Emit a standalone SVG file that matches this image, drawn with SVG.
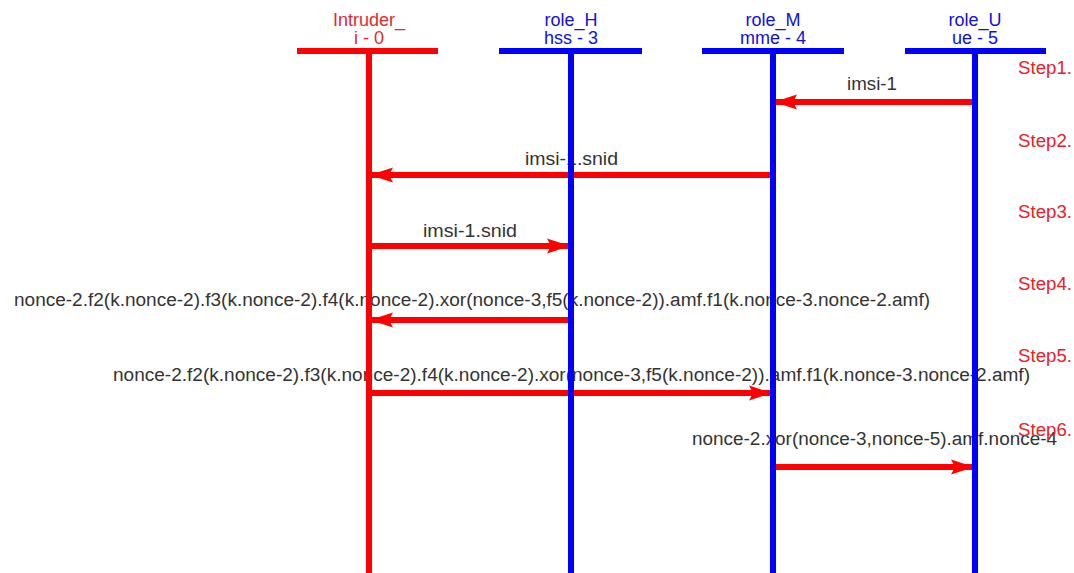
<svg xmlns="http://www.w3.org/2000/svg" width="1074" height="573" viewBox="0 0 1074 573">
  <defs>
    <style>
      .lbl { font-family: "Liberation Sans", Arial, sans-serif; font-size: 18px; fill: #333333; }
      .step { font-family: "Liberation Sans", Arial, sans-serif; font-size: 18px; fill: #e8202a; }
      .head-red { font-family: "Liberation Sans", Arial, sans-serif; font-size: 18px; fill: #e02a30; text-anchor: middle; }
      .head-blue { font-family: "Liberation Sans", Arial, sans-serif; font-size: 18px; fill: #1010e0; text-anchor: middle; }
      .msg { stroke: #ff0000; stroke-width: 6; fill: none; }
      .life-red { stroke: #ff0000; stroke-width: 6; }
      .life-blue { stroke: #0000ff; stroke-width: 6; }
    </style>
    <marker id="head" markerWidth="24" markerHeight="18" refX="23" refY="9" orient="auto" markerUnits="userSpaceOnUse">
      <path d="M0,1.5 L23,9 L0,16.5 L4,9 Z" fill="#ff0000"/>
    </marker>
  </defs>
  <rect width="1074" height="573" fill="#ffffff"/>

  <!-- message labels -->
  <g id="labels">
    <text class="lbl" x="847" y="90" textLength="50" lengthAdjust="spacingAndGlyphs">imsi-1</text>
    <text class="lbl" x="525" y="165" textLength="93" lengthAdjust="spacingAndGlyphs">imsi-1.snid</text>
    <text class="lbl" x="423" y="237" textLength="94" lengthAdjust="spacingAndGlyphs">imsi-1.snid</text>
    <text class="lbl" x="14" y="306" textLength="916" lengthAdjust="spacingAndGlyphs">nonce-2.f2(k.nonce-2).f3(k.nonce-2).f4(k.nonce-2).xor(nonce-3,f5(k.nonce-2)).amf.f1(k.nonce-3.nonce-2.amf)</text>
    <text class="lbl" x="113" y="381" textLength="917" lengthAdjust="spacingAndGlyphs">nonce-2.f2(k.nonce-2).f3(k.nonce-2).f4(k.nonce-2).xor(nonce-3,f5(k.nonce-2)).amf.f1(k.nonce-3.nonce-2.amf)</text>
    <text class="lbl" x="692" y="445" textLength="365" lengthAdjust="spacingAndGlyphs">nonce-2.xor(nonce-3,nonce-5).amf.nonce-4</text>
  </g>

  <!-- step markers -->
  <g id="steps">
    <text class="step" x="1018" y="74" textLength="54" lengthAdjust="spacingAndGlyphs">Step1.</text>
    <text class="step" x="1018" y="147" textLength="54" lengthAdjust="spacingAndGlyphs">Step2.</text>
    <text class="step" x="1018" y="218" textLength="54" lengthAdjust="spacingAndGlyphs">Step3.</text>
    <text class="step" x="1018" y="290" textLength="54" lengthAdjust="spacingAndGlyphs">Step4.</text>
    <text class="step" x="1018" y="362" textLength="54" lengthAdjust="spacingAndGlyphs">Step5.</text>
    <text class="step" x="1018" y="436" textLength="54" lengthAdjust="spacingAndGlyphs">Step6.</text>
  </g>

  <!-- messages -->
  <g id="connectors">
    <line class="msg" x1="975" y1="102" x2="774" y2="102" marker-end="url(#head)"/>
    <line class="msg" x1="773" y1="175" x2="370" y2="175" marker-end="url(#head)"/>
    <line class="msg" x1="369" y1="246" x2="570" y2="246" marker-end="url(#head)"/>
    <line class="msg" x1="571" y1="320" x2="370" y2="320" marker-end="url(#head)"/>
    <line class="msg" x1="369" y1="393" x2="772" y2="393" marker-end="url(#head)"/>
    <line class="msg" x1="773" y1="467" x2="974" y2="467" marker-end="url(#head)"/>
  </g>

  <!-- lifelines -->
  <g id="intruder">
    <text class="head-red" x="369" y="26">Intruder_</text>
    <text class="head-red" x="369" y="44">i - 0</text>
    <line class="life-red" x1="297" y1="51" x2="438" y2="51"/>
    <line class="life-red" x1="369" y1="51" x2="369" y2="573"/>
  </g>
  <g id="role_H">
    <text class="head-blue" x="571" y="26">role_H</text>
    <text class="head-blue" x="571" y="44">hss - 3</text>
    <line class="life-blue" x1="499" y1="51" x2="642" y2="51"/>
    <line class="life-blue" x1="571" y1="51" x2="571" y2="573"/>
  </g>
  <g id="role_M">
    <text class="head-blue" x="773" y="26">role_M</text>
    <text class="head-blue" x="773" y="44">mme - 4</text>
    <line class="life-blue" x1="702" y1="51" x2="844" y2="51"/>
    <line class="life-blue" x1="773" y1="51" x2="773" y2="573"/>
  </g>
  <g id="role_U">
    <text class="head-blue" x="975" y="26">role_U</text>
    <text class="head-blue" x="975" y="44">ue - 5</text>
    <line class="life-blue" x1="905" y1="51" x2="1046" y2="51"/>
    <line class="life-blue" x1="975" y1="51" x2="975" y2="573"/>
  </g>
</svg>
